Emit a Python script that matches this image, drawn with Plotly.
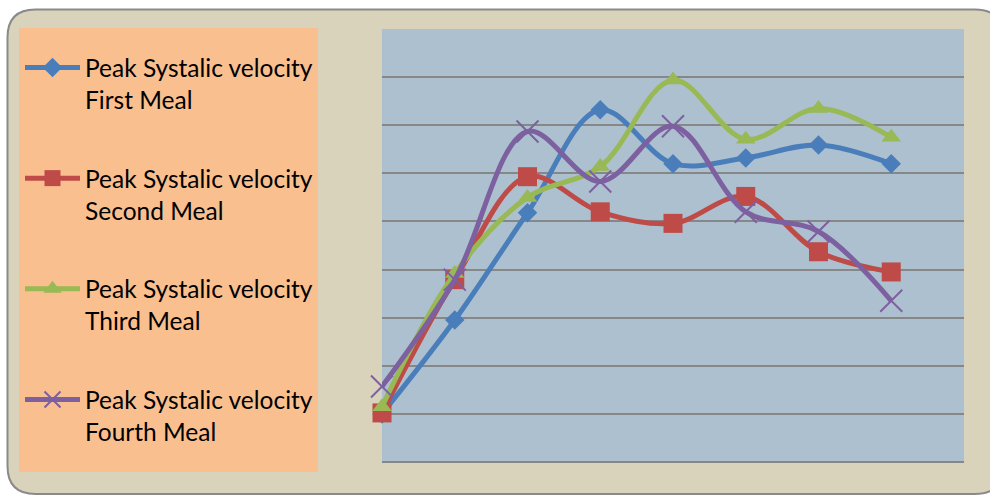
import plotly.graph_objects as go

# Measurement index (8 readings per meal)
readings = [1, 2, 3, 4, 5, 6, 7, 8]

first_meal = [10.0, 29.5, 51.8, 73.2, 62.0, 63.2, 65.9, 62.0]
second_meal = [10.2, 37.9, 59.3, 52.0, 49.6, 55.2, 43.7, 39.5]
third_meal = [11.5, 39.2, 55.0, 61.4, 79.4, 67.1, 73.5, 67.5]
fourth_meal = [15.7, 37.9, 68.7, 58.3, 69.8, 52.0, 47.9, 33.5]

series_names = [
    "Peak Systalic velocity<br>First Meal",
    "Peak Systalic velocity<br>Second Meal",
    "Peak Systalic velocity<br>Third Meal",
    "Peak Systalic velocity<br>Fourth Meal",
]

W, H = 990, 495
ML, MR, MT, MB = 382, 26, 29, 33
PW, PH = W - ML - MR, H - MT - MB


def px(x):
    return (x - ML) / PW


def py(y):
    return (H - MB - y) / PH


def rounded_rect(x0, y0, x1, y1, r):
    pts = [
        ("M", [(x0 + r, y0)]),
        ("L", [(x1 - r, y0)]),
        ("Q", [(x1, y0), (x1, y0 + r)]),
        ("L", [(x1, y1 - r)]),
        ("Q", [(x1, y1), (x1 - r, y1)]),
        ("L", [(x0 + r, y1)]),
        ("Q", [(x0, y1), (x0, y1 - r)]),
        ("L", [(x0, y0 + r)]),
        ("Q", [(x0, y0), (x0 + r, y0)]),
    ]
    out = []
    for cmd, coords in pts:
        out.append(cmd + " ".join(f"{px(a):.5f},{py(b):.5f}" for a, b in coords))
    return " ".join(out) + " Z"


fig = go.Figure()

styles = [
    (first_meal, "#4A7EBB", dict(symbol="diamond", size=15, color="#4A7EBB")),
    (second_meal, "#BE4B48", dict(symbol="square", size=19, color="#BE4B48")),
    (third_meal, "#98B954", dict(symbol="triangle-up", size=17, color="#98B954")),
    (fourth_meal, "#7D60A0", dict(symbol="x-thin", size=22, color="#7D60A0",
                                   line=dict(width=2, color="#7D60A0"))),
]

for i, ((vals, col, mk), name) in enumerate(zip(styles, series_names)):
    fig.add_trace(go.Scatter(
        x=readings, y=vals, name=name, mode="lines+markers",
        line=dict(color=col, width=5, shape="spline", smoothing=1.0),
        marker=mk, cliponaxis=False, legendgroup=f"g{i}",
    ))

shapes = [
    # outer frame
    dict(type="path", xref="paper", yref="paper", layer="below",
         path=rounded_rect(7.5, 9.5, 1003, 494, 28),
         fillcolor="#D9D3BB", line=dict(color="#8A8A8A", width=2)),
    # legend panel
    dict(type="rect", xref="paper", yref="paper", layer="below",
         x0=px(19), x1=px(318), y0=py(472), y1=py(28),
         fillcolor="#F9BF8F", line=dict(width=0)),
    # plot panel
    dict(type="rect", xref="paper", yref="paper", layer="below",
         x0=0, x1=1, y0=0, y1=1,
         fillcolor="#ADC0CF", line=dict(width=0)),
]

fig.update_layout(
    width=W, height=H,
    margin=dict(l=ML, r=MR, t=MT, b=MB),
    paper_bgcolor="white",
    plot_bgcolor="rgba(0,0,0,0)",
    shapes=shapes,
    showlegend=True,
    legend=dict(
        xref="container", yref="container",
        x=20 / W, y=1 - 45 / H, xanchor="left", yanchor="top",
        bgcolor="rgba(0,0,0,0)",
        font=dict(family="Lato", size=24.5, color="#000000"),
        traceorder="grouped", tracegroupgap=44,
        itemwidth=55, valign="top", maxheight=480,
    ),
    xaxis=dict(range=[1, 9], showgrid=False, zeroline=False,
               showticklabels=False, ticks="", showline=False),
    yaxis=dict(range=[0, 90], tick0=0, dtick=10, showgrid=True,
               gridcolor="#878787", gridwidth=2, zeroline=True,
               zerolinecolor="#878787", zerolinewidth=2,
               showticklabels=False, ticks="", showline=False),
)

fig.write_html("out.html")
